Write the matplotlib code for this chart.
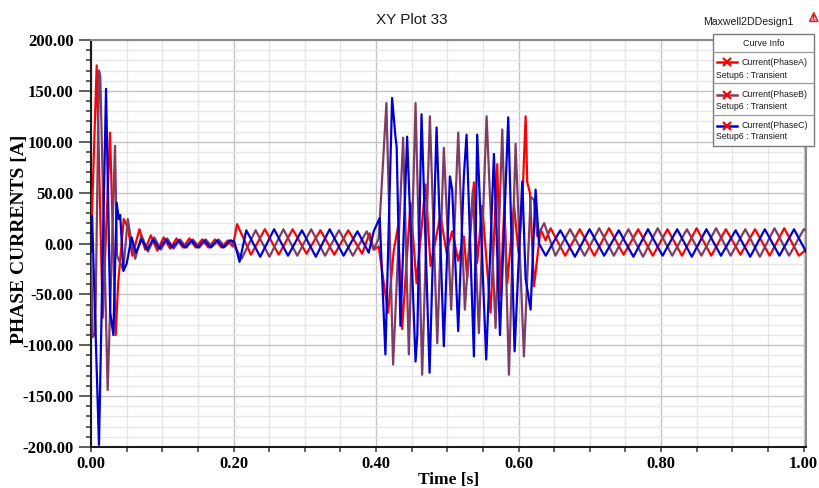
import matplotlib
matplotlib.use('Agg')
import matplotlib.pyplot as plt
from matplotlib.ticker import MultipleLocator, FuncFormatter
from matplotlib.patches import Rectangle, Polygon

SANS = 'Liberation Sans'
SERIF = 'Liberation Serif'

# ---------------- data (time [s], current [A]) ----------------
t_a = [0.000, 0.008, 0.0164, 0.0267, 0.0347, 0.038, 0.046, 0.052, 0.058, 0.068,
       0.076, 0.084, 0.093, 0.102, 0.111, 0.120, 0.129, 0.138, 0.147, 0.156,
       0.165, 0.174, 0.183, 0.192, 0.199, 0.205, 0.2245, 0.244, 0.2635, 0.283,
       0.3025, 0.322, 0.3415, 0.361, 0.3805, 0.391, 0.3968, 0.4038, 0.4085, 0.4170,
       0.4249, 0.4310, 0.4367, 0.4484, 0.4569, 0.4695, 0.4766, 0.4905, 0.4990, 0.5069,
       0.5154, 0.5233, 0.5280, 0.5374, 0.5420, 0.5491, 0.5608, 0.5702, 0.5748, 0.5800,
       0.5843, 0.5937, 0.6000, 0.6053, 0.6100, 0.6123, 0.6160, 0.6217, 0.6310, 0.6380,
       0.645, 0.6655, 0.686, 0.7065, 0.727, 0.7475, 0.768, 0.7885, 0.809, 0.8295,
       0.850, 0.8705, 0.891, 0.9115, 0.932, 0.9525, 0.973, 0.9935, 1.0035]
i_a = [0, 175, -73, 109, -90, -40, 24, 15, -12, 14,
       -6, 8, -7, 6, -5, 5, -4, 5, -4, 4,
       -4, 4, -4, 3, -3, 19, -11, 14, -11, 14,
       -10, 13, -11, 13, -10, 10, -6, -3, -27, -68,
       -7, 17, -84, 40, -39, 58, -22, 28, -9, 12,
       -17, 7, -34, 60, -19, 37, -68, 78, -52, 37,
       -39, 38, -9, 40, 125, 60, 50, -42, 14, 3,
       15, -12, 14, -12, 15, -11, 14, -12, 14, -12,
       15, -12, 14, -11, 14, -12, 15, -12, -6]

t_b = [0.000, 0.0025, 0.006, 0.0112, 0.013, 0.0234, 0.0337, 0.0365, 0.0454, 0.0516,
       0.056, 0.062, 0.071, 0.080, 0.089, 0.098, 0.107, 0.116, 0.125, 0.134,
       0.143, 0.152, 0.161, 0.170, 0.179, 0.188, 0.197, 0.2115, 0.231, 0.2505,
       0.270, 0.2895, 0.309, 0.3285, 0.348, 0.3675, 0.387, 0.3968, 0.4038, 0.4146,
       0.4240, 0.4381, 0.4461, 0.4555, 0.4648, 0.4756, 0.4860, 0.4952, 0.5055, 0.5154,
       0.5247, 0.5360, 0.5444, 0.5552, 0.5678, 0.5772, 0.5866, 0.5959, 0.6076, 0.6170,
       0.6217, 0.6264, 0.6360, 0.6518, 0.6723, 0.6928, 0.7133, 0.7338, 0.7543, 0.7748,
       0.7953, 0.8158, 0.8363, 0.8568, 0.8773, 0.8978, 0.9183, 0.9388, 0.9593, 0.9798,
       1.0003, 1.0035]
i_b = [-10, -92, -88, 170, 165, -144, 96, -12, -26, 24,
       5, -15, 8, -8, 6, -6, 5, -5, 4, -4,
       4, -4, 4, -3, 4, -3, 3, -15, 13, -13,
       14, -12, 14, -12, 13, -12, 12, -6, 5, 138,
       -119, 104, -109, 138, -129, 125, -98, 94, -65, 109,
       -65, 53, -88, 125, -83, 112, -129, 98, -111, 46,
       43, 7, 20, -12, 14, -12, 15, -12, 14, -13,
       15, -12, 14, -12, 15, -12, 14, -13, 15, -12,
       14, 13]

t_c = [0.000, 0.0015, 0.0112, 0.0211, 0.027, 0.0314, 0.036, 0.039, 0.041, 0.0455,
       0.050, 0.057, 0.063, 0.071, 0.079, 0.087, 0.096, 0.105, 0.114, 0.123,
       0.132, 0.141, 0.150, 0.159, 0.168, 0.177, 0.186, 0.195, 0.201, 0.2085,
       0.218, 0.2375, 0.257, 0.2765, 0.296, 0.3155, 0.335, 0.3545, 0.374, 0.3898,
       0.3968, 0.4052, 0.4132, 0.4226, 0.4273, 0.4290, 0.4343, 0.4437, 0.4555, 0.4580,
       0.4639, 0.4752, 0.4850, 0.4952, 0.5037, 0.5069, 0.5154, 0.5233, 0.5271, 0.5374,
       0.5420, 0.5547, 0.5655, 0.5740, 0.5856, 0.5945, 0.6053, 0.6100, 0.6170, 0.6240,
       0.6287, 0.6382, 0.6587, 0.6792, 0.6997, 0.7202, 0.7407, 0.7612, 0.7817, 0.8022,
       0.8227, 0.8432, 0.8637, 0.8842, 0.9047, 0.9252, 0.9457, 0.9662, 0.9867, 1.0035]
i_c = [0, 27, -198, 152, -68, -90, 40, 24, 28, -27,
       -20, 6, -9, 4, -6, 4, -5, 4, -4, 3,
       -4, 3, -4, 3, -4, 3, -4, 3, 2, -18,
       13, -13, 14, -12, 13, -13, 14, -12, 12, -9,
       12, 25, -109, 143, 105, 95, -81, 105, -116, -90,
       127, -127, 114, -101, 66, 53, -86, 66, 107, -111,
       107, -114, 88, -90, 124, -106, 61, -35, -65, 53,
       0, -12, 13, -13, 14, -12, 13, -13, 14, -12,
       14, -13, 14, -12, 13, -13, 14, -12, 14, -8]

series_names = ['Current(PhaseA)', 'Current(PhaseB)', 'Current(PhaseC)']
series_colors = ['#FF0000', '#7E3D62', '#0000D2']
x_ticks = [0.0, 0.2, 0.4, 0.6, 0.8, 1.0]
y_ticks = [-200, -150, -100, -50, 0, 50, 100, 150, 200]

# ---------------- figure ----------------
W, H = 820, 488
fig = plt.figure(figsize=(W / 100, H / 100), dpi=100)
fig.patch.set_facecolor('white')

def fx(px):
    return px / W

def fy(py):
    return 1 - py / H

ax = fig.add_axes([fx(91), fy(447), fx(806) - fx(91), fy(40) - fy(447)])

for t, v, c, n in zip([t_a, t_b, t_c], [i_a, i_b, i_c], series_colors, series_names):
    ax.plot(t, v, color=c, lw=1.6, label=n, zorder=3, solid_joinstyle='round')

ax.set_xlim(0, 1.0035)
ax.set_ylim(-200, 200)
ax.set_xticks(x_ticks)
ax.set_yticks(y_ticks)
ax.xaxis.set_minor_locator(MultipleLocator(0.05))
ax.yaxis.set_minor_locator(MultipleLocator(10))
ax.xaxis.set_major_formatter(FuncFormatter(lambda v, p: f"{v:.2f}"))
ax.yaxis.set_major_formatter(FuncFormatter(lambda v, p: f"{v:.2f}"))

ax.grid(which='major', color='#C4C4C4', lw=1.0, zorder=0)
ax.grid(which='minor', color='#E6E6E6', lw=1.0, zorder=0)
ax.set_axisbelow(True)

for s in ['left', 'bottom']:
    ax.spines[s].set_color('#1A1A1A')
    ax.spines[s].set_linewidth(1.5)
for s in ['top', 'right']:
    ax.spines[s].set_color('#8C8C8C')
    ax.spines[s].set_linewidth(1.5)

ax.tick_params(axis='y', which='major', direction='out', length=8.6, width=1.1,
               color='#333333', pad=4)
ax.tick_params(axis='y', which='minor', direction='out', length=3.6, width=1.1,
               color='#333333')
ax.tick_params(axis='x', which='both', direction='out', length=3.6, width=1.1,
               color='#333333', pad=3)
for lab in ax.get_xticklabels() + ax.get_yticklabels():
    lab.set_fontfamily(SERIF)
    lab.set_fontweight('bold')
    lab.set_fontsize(12)

ax.set_xlabel('Time [s]', family=SERIF, weight='bold', size=12.5, labelpad=0)
ax.set_ylabel('PHASE CURRENTS [A]', family=SERIF, weight='bold', size=14)
ax.yaxis.label.set_verticalalignment('center')
ax.yaxis.set_label_coords((20 - 91) / 715, 0.51)

fig.text(fx(412), fy(20), 'XY Plot 33', ha='center', va='center',
         family=SANS, size=11, color='#1A1A1A')
fig.text(fx(748.5), fy(22), 'Maxwell2DDesign1', ha='center', va='center',
         family=SANS, size=7.6, color='#1A1A1A')

# warning triangle icon
tri = Polygon([(fx(809.5), fy(21.5)), (fx(818), fy(21.5)), (fx(813.8), fy(12.5))],
              closed=True, transform=fig.transFigure, facecolor='#F4A0A0',
              edgecolor='#E02020', lw=1.0)
fig.patches.append(tri)
fig.text(fx(813.8), fy(18.3), '!', ha='center', va='center', size=5,
         color='#C00000', weight='bold')

# legend box ("Curve Info")
lax = fig.add_axes([fx(713), fy(146), fx(814) - fx(713), fy(34) - fy(146)], zorder=5)
lax.set_xlim(0, 101)
lax.set_ylim(112, 0)
lax.axis('off')
lax.add_patch(Rectangle((0, 0), 101, 112, facecolor='white', edgecolor='#7A7A7A',
                        lw=1.0, clip_on=False))
lax.text(50.5, 9.2, 'Curve Info', ha='center', va='center', family=SANS,
         size=6.4, color='#1A1A1A')
for ysep in [18.3, 49.3, 81.0]:
    lax.plot([0, 101], [ysep, ysep], color='#9A9A9A', lw=0.9, clip_on=False)
line_y = [28.3, 60.8, 91.7]
setup_y = [41.0, 72.7, 102.7]
for n, c, ly, sy in zip(series_names, series_colors, line_y, setup_y):
    lax.plot([4, 24], [ly, ly], color=c, lw=1.8, clip_on=False)
    lax.plot([14], [ly], marker='x', ms=6, mew=1.6, color='#FF0000', clip_on=False)
    lax.text(29, ly, n, ha='left', va='center', family=SANS, size=6.3,
             color='#1A1A1A')
    lax.text(3, sy, 'Setup6 : Transient', ha='left', va='center', family=SANS,
             size=6.3, color='#1A1A1A')

fig.savefig('out.png', dpi=100, facecolor='white')
